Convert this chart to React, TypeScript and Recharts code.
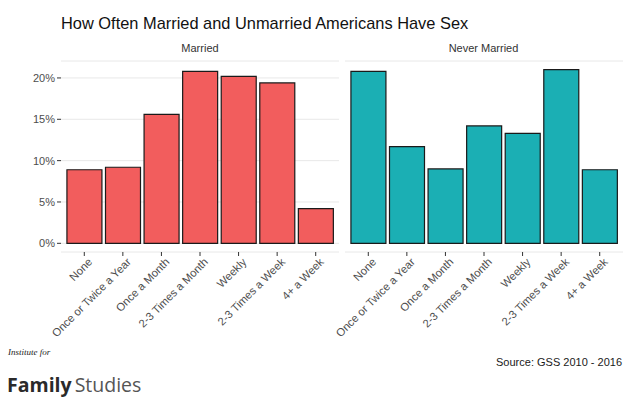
import React from 'react';
import { BarChart, Bar, XAxis, YAxis, CartesianGrid } from 'recharts';

const categories = ['None', 'Once or Twice a Year', 'Once a Month', '2-3 Times a Month', 'Weekly', '2-3 Times a Week', '4+ a Week'];
const married = [8.9, 9.2, 15.6, 20.8, 20.2, 19.4, 4.2];
const neverMarried = [20.8, 11.7, 9.0, 14.2, 13.3, 21.0, 8.9];
const yTicks = [0, 5, 10, 15, 20];
const panelTitles = ['Married', 'Never Married'];
const chartTitle = 'How Often Married and Unmarried Americans Have Sex';
const sourceText = 'Source: GSS 2010 - 2016';

const marriedData = categories.map((c, i) => ({ cat: c, value: married[i] }));
const neverData = categories.map((c, i) => ({ cat: c, value: neverMarried[i] }));

const FONT = '"Liberation Sans", Arial, Helvetica, sans-serif';
const DOMAIN: [number, number] = [-1.05, 22.05];

const XTick = (props: any) => {
  const { x, y, payload } = props;
  return (
    <g transform={`translate(${x + 3},${y - 1})`}>
      <text
        x={0}
        y={0}
        dy="0.72em"
        transform="rotate(-45)"
        textAnchor="end"
        fontSize={11.2}
        fontFamily={FONT}
        fill="#4d4d4d"
      >
        {payload.value}
      </text>
    </g>
  );
};

const Panel = ({ data, color, showY, width, leftMargin }: any) => (
  <BarChart
    width={width}
    height={352}
    data={data}
    margin={{ top: 61, right: 0, bottom: 0, left: leftMargin }}
    barCategoryGap="5%"
    style={{ overflow: 'visible' }}
  >
    <CartesianGrid vertical={false} stroke="#e8e8e8" strokeWidth={1} />
    <XAxis
      dataKey="cat"
      interval={0}
      height={100}
      axisLine={false}
      tickLine={{ stroke: '#333333' }}
      tickSize={4}
      tick={<XTick />}
      padding={{ left: 4, right: 4 }}
    />
    <YAxis
      type="number"
      domain={DOMAIN}
      allowDataOverflow
      ticks={yTicks}
      width={showY ? 61 : 0}
      axisLine={false}
      tickLine={showY ? { stroke: '#333333' } : false}
      tick={showY ? { fontSize: 11, fontFamily: FONT, fill: '#4d4d4d' } : false}
      tickSize={4}
      tickFormatter={(v: number) => `${v}%`}
    />
    <Bar dataKey="value" fill={color} stroke="#1a1a1a" strokeWidth={1.2} isAnimationActive={false} />
  </BarChart>
);

export default function App() {
  return (
    <div style={{ position: 'absolute', left: 0, top: 0, width: 640, height: 410, background: '#ffffff', overflow: 'hidden' }}>
      <svg width={640} height={410} style={{ position: 'absolute', left: 0, top: 0 }}>
        <text x={61} y={29} fontSize={16.4} fontFamily={FONT} fill="#111111">{chartTitle}</text>
        <text x={200} y={52} fontSize={11} textAnchor="middle" fontFamily={FONT} fill="#333333">{panelTitles[0]}</text>
        <text x={483.5} y={52} fontSize={11} textAnchor="middle" fontFamily={FONT} fill="#333333">{panelTitles[1]}</text>
        <text x={622} y={366} fontSize={11} textAnchor="end" fontFamily={FONT} fill="#1a1a1a">{sourceText}</text>
        <text x={8} y={355} fontSize={9} fontStyle="italic" fontFamily='"Liberation Serif", "DejaVu Serif", serif' fill="#222222">Institute for</text>
        <text x={7} y={392} fontSize={19.5} fontFamily='"Open Sans", "Noto Sans", sans-serif' fill="#2a2a2a">
          <tspan fontWeight={700}>Family</tspan>
          <tspan fontWeight={400} dx={3} fill="#555555">Studies</tspan>
        </text>
      </svg>
      <div style={{ position: 'absolute', left: 0, top: 0 }}>
        <Panel data={marriedData} color="#F25D5D" showY width={339} leftMargin={0} />
      </div>
      <div style={{ position: 'absolute', left: 245, top: 0 }}>
        <Panel data={neverData} color="#1BAFB4" showY={false} width={378} leftMargin={100} />
      </div>
    </div>
  );
}
